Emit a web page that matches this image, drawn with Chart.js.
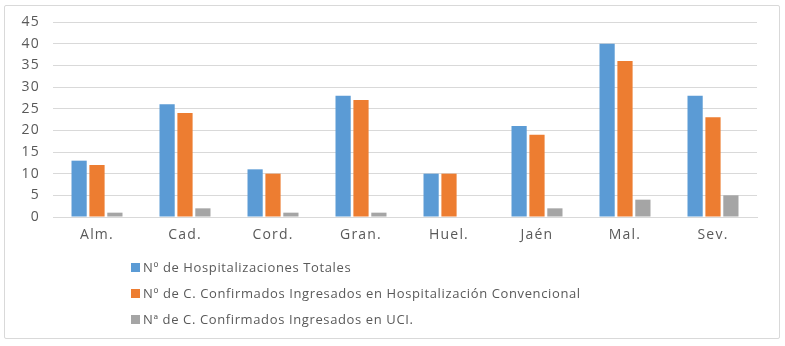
<!DOCTYPE html>
<html>
<head>
<meta charset="utf-8">
<script src="https://cdn.jsdelivr.net/npm/chart.js@4/dist/chart.umd.min.js"></script>
<style>
  html, body { margin: 0; padding: 0; background: #fff; }
  #wrap { position: relative; width: 785px; height: 346px; }
  #frame { position: absolute; left: 4px; top: 5px; width: 776px; height: 334px; border: 1px solid #d9d9d9; box-sizing: border-box; border-radius: 2px; }
  #c { position: absolute; left: 0; top: 0; }
  #legend { position: absolute; left: 131px; top: 257px; font-family: "Open Sans", "Liberation Sans", sans-serif; font-size: 13px; letter-spacing: 0.62px; color: #595959; }
  .li { height: 26px; line-height: 20px; white-space: nowrap; }
  .box { display: inline-block; width: 9px; height: 9px; margin-right: 3px; vertical-align: 0px; }
</style>
</head>
<body>
<div id="wrap">
  <div id="frame"></div>
  <canvas id="c" width="785" height="346"></canvas>
  <div id="legend"></div>
</div>
<script>
const categories = ["Alm.", "Cad.", "Cord.", "Gran.", "Huel.", "Jaén", "Mal.", "Sev."];
const seriesNames = [
  "Nº de Hospitalizaciones Totales",
  "Nº de C. Confirmados Ingresados en Hospitalización Convencional",
  "Nª de C. Confirmados Ingresados en UCI."
];
const hospTotales = [13, 26, 11, 28, 10, 21, 40, 28];
const hospConvencional = [12, 24, 10, 27, 10, 19, 36, 23];
const uci = [1, 2, 1, 1, 0, 2, 4, 5];
const colors = ["#5b9bd5", "#ed7d31", "#a5a5a5"];
const yTicks = [0, 5, 10, 15, 20, 25, 30, 35, 40, 45];

const FONT = "'Open Sans', 'Liberation Sans', sans-serif";
Chart.defaults.font.family = FONT;
Chart.defaults.color = "#595959";

const spacingPlugin = {
  id: "spacing",
  beforeDraw(chart) { chart.ctx.letterSpacing = "1.2px"; }
};

const chart = new Chart(document.getElementById("c"), {
  type: "bar",
  data: {
    labels: categories,
    datasets: [hospTotales, hospConvencional, uci].map((d, i) => ({
      label: seriesNames[i],
      data: d,
      backgroundColor: colors[i],
      borderWidth: 0,
      categoryPercentage: 0.61,
      barPercentage: 0.85
    }))
  },
  plugins: [spacingPlugin],
  options: {
    responsive: false,
    animation: false,
    devicePixelRatio: 1,
    layout: { padding: { top: 22, left: 0, right: 28, bottom: 99 } },
    plugins: { legend: { display: false }, tooltip: { enabled: false } },
    scales: {
      x: {
        grid: { display: false, drawTicks: false },
        border: { display: true, color: "#d9d9d9", width: 1 },
        ticks: { font: { size: 14 }, color: "#595959", padding: 10 },
        afterFit: s => { s.height = 30; }
      },
      y: {
        min: 0, max: 45,
        afterBuildTicks: s => { s.ticks = yTicks.map(v => ({ value: v })); },
        grid: { color: "#d9d9d9", drawTicks: false },
        border: { display: false },
        ticks: { font: { size: 14 }, color: "#595959", padding: 13 },
        afterFit: s => { s.width = 53; }
      }
    }
  }
});

const leg = document.getElementById("legend");
chart.data.datasets.forEach(ds => {
  const row = document.createElement("div");
  row.className = "li";
  const b = document.createElement("span");
  b.className = "box";
  b.style.background = ds.backgroundColor;
  row.appendChild(b);
  row.appendChild(document.createTextNode(ds.label));
  leg.appendChild(row);
});
</script>
</body>
</html>
